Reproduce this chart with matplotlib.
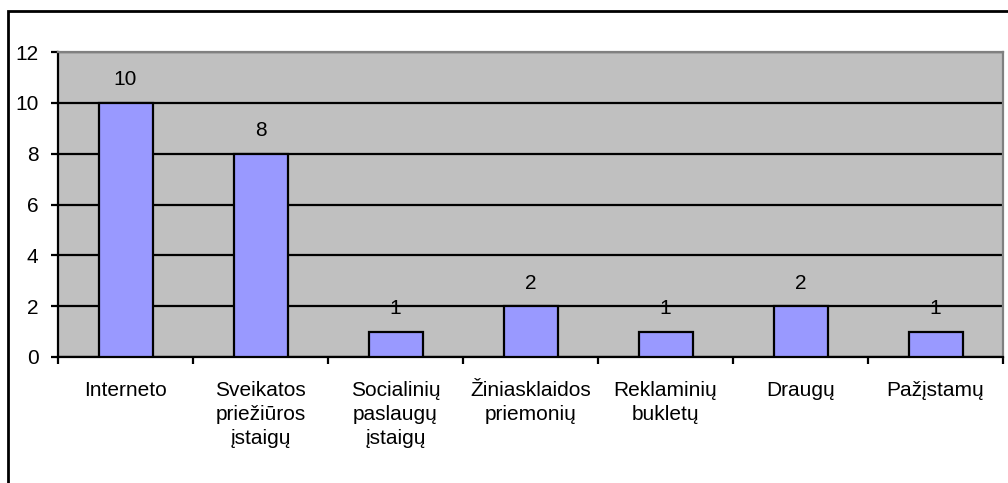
import matplotlib
matplotlib.use("Agg")
import matplotlib.pyplot as plt
from matplotlib.patches import Rectangle

categories = ["Interneto", "Sveikatos\npriežiūros\nįstaigų", "Socialinių\npaslaugų\nįstaigų",
              "Žiniasklaidos\npriemonių", "Reklaminių\nbukletų", "Draugų", "Pažįstamų"]
values = [10, 8, 1, 2, 1, 2, 1]
y_ticks = [0, 2, 4, 6, 8, 10, 12]

plt.rcParams["font.family"] = ["Liberation Sans", "DejaVu Sans"]

W, H = 1008, 483
fig = plt.figure(figsize=(W / 100, H / 100), dpi=100)
fig.patch.set_facecolor("white")

# outer frame (extends past right and bottom edges)
fig.patches.append(Rectangle((7.5 / W, -0.1), 1.2, 1 - 10.5 / H + 0.1,
                             transform=fig.transFigure, fill=False,
                             edgecolor="black", linewidth=2.0, zorder=0))

left, right, top, bottom = 58, 1003, 52, 357
ax = fig.add_axes([left / W, 1 - bottom / H, (right - left) / W, (bottom - top) / H])
ax.set_facecolor("#C0C0C0")

fs = 15
n = len(categories)
x = [i + 0.5 for i in range(n)]
ax.bar(x, values, width=0.4, color="#9999FF", edgecolor="black", linewidth=1.6, zorder=3)

for xi, v in zip(x, values):
    ax.annotate(str(v), (xi, v), xytext=(0, 16.5), textcoords="offset points",
                ha="center", va="center", fontsize=fs, zorder=4)

ax.set_xlim(0, n)
ax.set_ylim(0, 12)
ax.set_yticks(y_ticks)
ax.set_yticklabels([str(t) for t in y_ticks], fontsize=fs)
ax.yaxis.grid(True, color="black", linewidth=1.6, zorder=1)
ax.set_axisbelow(True)

ax.set_xticks(range(n + 1))
ax.set_xticklabels([])
ax.set_xticks(x, minor=True)
ax.set_xticklabels(categories, minor=True, fontsize=fs, linespacing=1.33)
ax.tick_params(axis="x", which="minor", length=0, pad=17.5)
ax.tick_params(axis="x", which="major", length=5, width=1.6, direction="out")
ax.tick_params(axis="y", length=5, width=1.6, pad=9)

for s in ["left", "bottom"]:
    ax.spines[s].set_color("black")
    ax.spines[s].set_linewidth(1.6)
for s in ["top", "right"]:
    ax.spines[s].set_color("#808080")
    ax.spines[s].set_linewidth(1.6)

fig.savefig("out.png", dpi=100)
